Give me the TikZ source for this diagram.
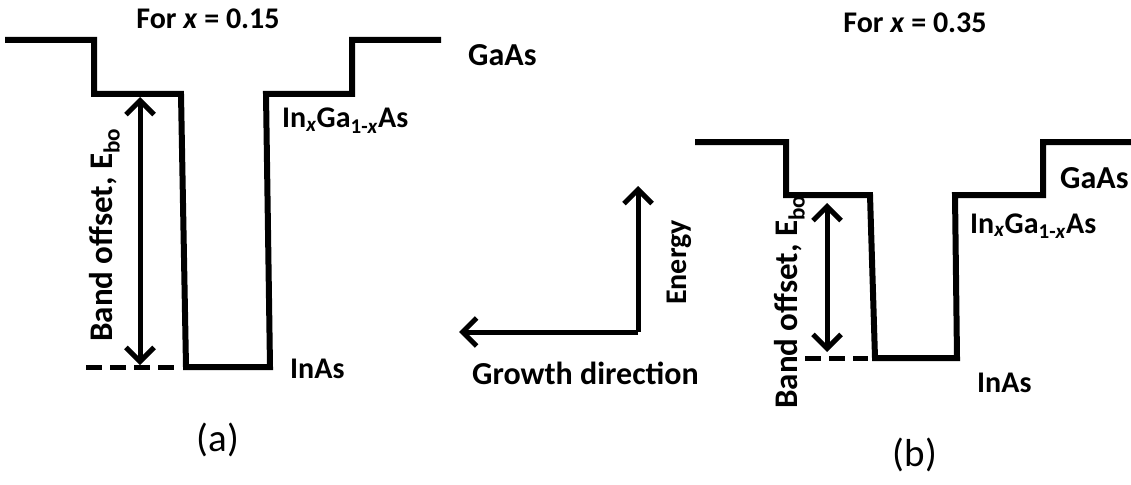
\documentclass[tikz,border=0pt]{standalone}
\usepackage{fontspec}
\setmainfont{Carlito}
\usetikzlibrary{arrows.meta}
\begin{document}
\begin{tikzpicture}[x=1pt,y=-1pt,
  band/.style={line width=6pt, line join=miter, line cap=rect},
  barb/.tip={Straight Barb[length=14pt,width=28pt,line width=5pt]},
  dblarrow/.style={line width=5pt, barb-barb},
  axisarrow/.style={line width=5pt, -barb},
  dashline/.style={line width=5pt, dash pattern=on 16pt off 8pt},
  lbl/.style={inner sep=0pt, font=\fontsize{30}{32}\selectfont\bfseries},
  biglbl/.style={inner sep=0pt, font=\fontsize{32}{34}\selectfont\bfseries},
  vlbl/.style={inner sep=0pt, rotate=90, font=\fontsize{33}{35}\selectfont\bfseries},
  captext/.style={inner sep=0pt, font=\fontsize{39}{41}\selectfont}]
\useasboundingbox (0,0) rectangle (1131,484);
% ---------- (a) ----------
\coordinate (a1) at (8,40);
\coordinate (a2) at (94,40);
\coordinate (a3) at (94,94);
\coordinate (a4) at (181,94);
\coordinate (a5) at (186,367);
\coordinate (a6) at (270,367);
\coordinate (a7) at (266,94);
\coordinate (a8) at (352,94);
\coordinate (a9) at (352,40);
\coordinate (a10) at (438,40);
\draw[band] (a1) -- (a2) -- (a3) -- (a4) -- (a5) -- (a6) -- (a7) -- (a8) -- (a9) -- (a10);
\coordinate (ea1) at (140,97);
\coordinate (ea2) at (140,365);
\draw[dblarrow] (ea1) -- (ea2);
\coordinate (da1) at (86,367);
\coordinate (da2) at (178,367);
\draw[dashline] (da1) -- (da2);
\node[lbl, anchor=base] (ta) at (208,29) {For \textit{x} = 0.15};
\node[biglbl, anchor=base west] (gaasa) at (468,66) {GaAs};
\node[lbl, anchor=base west] (ingaa) at (282,128) {In\textsubscript{\textit{x}}Ga\textsubscript{1-\textit{x}}As};
\node[lbl, anchor=base west] (inasa) at (290,378) {InAs};
\node[vlbl, anchor=base west] (boa) at (112,342) {Band offset, E\textsubscript{bo}};
% ---------- axes ----------
\coordinate (o) at (638,332);
\coordinate (up) at (638,186);
\coordinate (lf) at (459,332);
\draw[axisarrow] (o) -- (up);
\draw[axisarrow] (o) -- (lf);
\node[lbl, rotate=90, anchor=base west] (energy) at (686,305) {Energy};
\node[biglbl, anchor=base west] (growth) at (472,384) {Growth direction};
% ---------- (b) ----------
\coordinate (b1) at (698,142);
\coordinate (b2) at (786,142);
\coordinate (b3) at (786,195);
\coordinate (b4) at (870,195);
\coordinate (b5) at (875,358);
\coordinate (b6) at (957,358);
\coordinate (b7) at (955,195);
\coordinate (b8) at (1043,195);
\coordinate (b9) at (1043,142);
\coordinate (b10) at (1131,142);
\draw[band] (b1) -- (b2) -- (b3) -- (b4) -- (b5) -- (b6) -- (b7) -- (b8) -- (b9) -- (b10);
\coordinate (eb1) at (827,203);
\coordinate (eb2) at (827,352);
\draw[dblarrow] (eb1) -- (eb2);
\coordinate (db1) at (805,358);
\coordinate (db2) at (868,358);
\draw[dashline] (db1) -- (db2);
\node[lbl, anchor=base] (tb) at (915,33) {For \textit{x} = 0.35};
\node[biglbl, anchor=base west] (gaasb) at (1060,188) {GaAs};
\node[lbl, anchor=base west] (ingab) at (970,233) {In\textsubscript{\textit{x}}Ga\textsubscript{1-\textit{x}}As};
\node[lbl, anchor=base west] (inasb) at (977,392) {InAs};
\node[vlbl, anchor=base west] (bob) at (797,409) {Band offset, E\textsubscript{bo}};
% ---------- captions ----------
\node[captext] (capa) at (218,440) {(a)};
\node[captext] (capb) at (915,455) {(b)};
\end{tikzpicture}
\end{document}
